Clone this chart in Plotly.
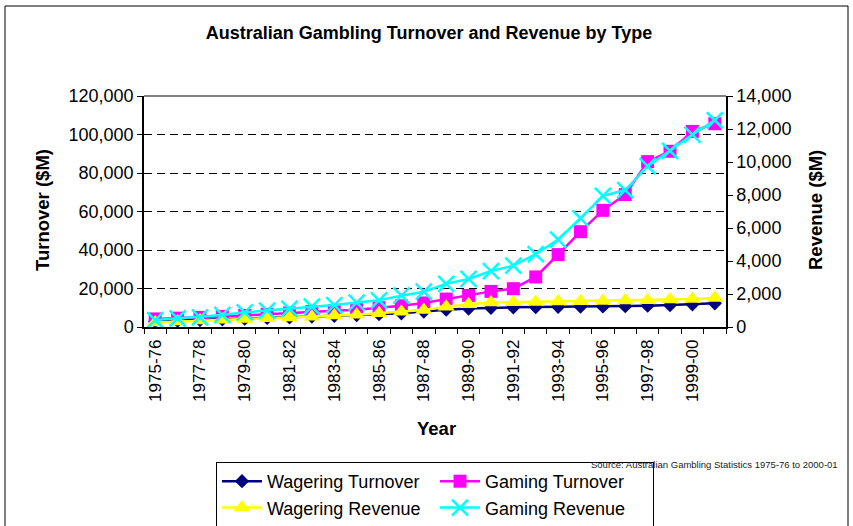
import plotly.graph_objects as go

years = ["1975-76", "1976-77", "1977-78", "1978-79", "1979-80", "1980-81", "1981-82",
         "1982-83", "1983-84", "1984-85", "1985-86", "1986-87", "1987-88", "1988-89",
         "1989-90", "1990-91", "1991-92", "1992-93", "1993-94", "1994-95", "1995-96",
         "1996-97", "1997-98", "1998-99", "1999-00", "2000-01"]

wagering_turnover = [3000, 3300, 3600, 4000, 4300, 4700, 5000, 5400, 5800, 6200, 6700, 7100,
                     8000, 9000, 9600, 10000, 10200, 10400, 10500, 10600, 10700, 10800,
                     11100, 11400, 11800, 12300]
gaming_turnover = [4200, 4600, 5000, 5500, 6000, 6600, 7300, 8000, 8500, 9000, 10000, 11000,
                   12500, 14500, 16400, 18500, 19900, 26000, 37600, 49500, 60600, 68800,
                   85900, 91300, 101600, 105600]
wagering_revenue = [280, 340, 390, 440, 490, 530, 570, 620, 690, 740, 830, 930, 1030, 1230,
                    1380, 1480, 1500, 1520, 1540, 1560, 1580, 1600, 1620, 1660, 1700, 1760]
gaming_revenue = [420, 520, 590, 730, 890, 990, 1100, 1230, 1330, 1480, 1620, 1900, 2140,
                  2620, 2910, 3390, 3720, 4420, 5300, 6590, 7940, 8300, 9750, 10680, 11660,
                  12530]

tick_text = [y if i % 2 == 0 else "" for i, y in enumerate(years)]

FONT = "Liberation Sans, Arial, sans-serif"

fig = go.Figure()
fig.add_trace(go.Scatter(x=years, y=wagering_turnover, name="Wagering Turnover", mode="lines+markers",
                         line=dict(color="#000080", width=2.5),
                         marker=dict(symbol="diamond", size=11, color="#000080")))
fig.add_trace(go.Scatter(x=years, y=gaming_turnover, name="Gaming Turnover", mode="lines+markers",
                         line=dict(color="#FF00FF", width=2.5),
                         marker=dict(symbol="square", size=13, color="#FF00FF")))
fig.add_trace(go.Scatter(x=years, y=wagering_revenue, name="Wagering Revenue", mode="lines+markers",
                         yaxis="y2", line=dict(color="#FFFF00", width=2.5),
                         marker=dict(symbol="triangle-up", size=15, color="#FFFF00")))
fig.add_trace(go.Scatter(x=years, y=gaming_revenue, name="Gaming Revenue", mode="lines+markers",
                         yaxis="y2", line=dict(color="#00FFFF", width=2.5),
                         marker=dict(symbol="x-thin", size=16, color="#00FFFF",
                                     line=dict(color="#00FFFF", width=2.5))))

L, R, T, B = 144, 127, 96, 199
W, H = 853, 526
pw, ph = W - L - R, H - T - B

def px(x):
    return (x - L) / pw

def py(y):
    return (H - B - y) / ph

fig.update_layout(
    width=W, height=H,
    margin=dict(l=L, r=R, t=T, b=B, autoexpand=False),
    paper_bgcolor="white", plot_bgcolor="white",
    font=dict(family=FONT, color="black"),
    title=dict(text="<b>Australian Gambling Turnover and Revenue by Type</b>",
               font=dict(size=18, family=FONT, color="black"),
               x=0.503, xref="container", xanchor="center",
               y=1 - 33 / H, yref="container", yanchor="middle"),
    xaxis=dict(type="category", tickmode="array", tickvals=years, ticktext=tick_text,
               tickson="boundaries", ticks="outside", ticklen=5, tickcolor="black", tickwidth=1,
               tickangle=-90, tickfont=dict(size=17, family=FONT), ticklabelstandoff=4,
               showline=True, linecolor="black", linewidth=1.5, showgrid=False,
               range=[-0.5, len(years) - 0.5]),
    yaxis=dict(range=[0, 120000], dtick=20000, tickformat=",d",
               ticks="outside", ticklen=5, tickcolor="black",
               tickfont=dict(size=18, family=FONT),
               showline=True, linecolor="black", linewidth=1.5,
               showgrid=True, gridcolor="black", gridwidth=1, griddash="8px,5px",
               zeroline=False),
    yaxis2=dict(range=[0, 14000], dtick=2000, tickformat=",d", overlaying="y", side="right",
                ticks="outside", ticklen=5, tickcolor="black",
                tickfont=dict(size=18, family=FONT),
                showline=True, linecolor="black", linewidth=1.5,
                showgrid=False, zeroline=False),
    showlegend=True,
    legend=dict(orientation="h", x=px(216), y=py(462), xanchor="left", yanchor="top",
                bordercolor="black", borderwidth=1, bgcolor="white",
                font=dict(size=18, family=FONT, color="black"),
                entrywidth=163, entrywidthmode="pixels", itemwidth=40,
                traceorder="normal"),
)

# axis titles
fig.add_annotation(text="<b>Turnover ($M)</b>", x=px(42), y=py(210), xref="paper", yref="paper",
                   xanchor="center", yanchor="middle",
                   textangle=-90, showarrow=False, font=dict(size=18.5, family=FONT, color="black"))
fig.add_annotation(text="<b>Revenue ($M)</b>", x=px(815), y=py(210), xref="paper", yref="paper",
                   xanchor="center", yanchor="middle",
                   textangle=-90, showarrow=False, font=dict(size=18.5, family=FONT, color="black"))
fig.add_annotation(text="<b>Year</b>", x=px(436), y=py(428), xref="paper", yref="paper",
                   xanchor="center", yanchor="middle",
                   showarrow=False, font=dict(size=18.5, family=FONT, color="black"))
fig.add_annotation(text="Source: Australian Gambling Statistics 1975-76 to 2000-01",
                   x=px(840), y=py(464), xref="paper", yref="paper", xanchor="right",
                   yanchor="middle", showarrow=False,
                   font=dict(size=9.5, family=FONT, color="#222222"))

# plot-area top border (gray) and outer chart border
fig.add_shape(type="line", xref="paper", yref="paper", x0=0, x1=1, y0=1, y1=1,
              line=dict(color="#808080", width=2), layer="above")
fig.add_shape(type="rect", xref="paper", yref="paper", x0=px(5), x1=px(848), y0=py(540), y1=py(6),
              line=dict(color="black", width=1), layer="below")

fig.write_html("out.html", config={"displayModeBar": False},
               post_script="document.body.style.margin='0';document.body.style.overflow='hidden';")
